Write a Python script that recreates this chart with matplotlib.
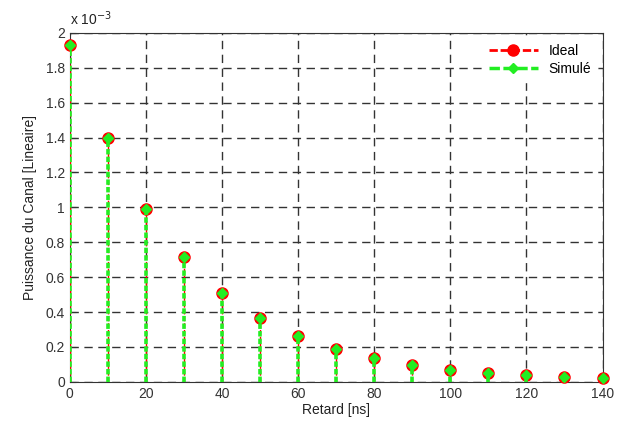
import matplotlib
matplotlib.use("Agg")
import matplotlib.pyplot as plt
from matplotlib.lines import Line2D

plt.rcParams['font.family'] = ['Liberation Sans', 'DejaVu Sans']

delays = [0, 10, 20, 30, 40, 50, 60, 70, 80, 90, 100, 110, 120, 130, 140]
# power in units of 1e-3
ideal = [1.93, 1.40, 0.99, 0.716, 0.51, 0.367, 0.262, 0.19, 0.138, 0.098, 0.07, 0.051, 0.039, 0.028, 0.021]
simule = [1.93, 1.40, 0.99, 0.716, 0.51, 0.367, 0.262, 0.19, 0.138, 0.098, 0.07, 0.051, 0.039, 0.028, 0.021]

fig = plt.figure(figsize=(6.18, 4.21), dpi=100)
ax = fig.add_axes([0.113, 0.093, 0.862, 0.829])

ax.vlines(delays, 0, ideal, colors='#ff0000', linestyles=(0, (3.5, 1.4)), linewidth=1.0, zorder=3)
ax.plot(delays, ideal, 'o', color='#ff0000', markersize=8, zorder=4, clip_on=False)
ax.vlines(delays, 0, simule, colors='#22ee22', linestyles=(0, (1.5, 0.6)), linewidth=2.6, zorder=5)
ax.plot(delays, simule, 'D', color='#22ee22', markersize=5, zorder=6, clip_on=False)

ax.set_xlim(0, 140)
ax.set_ylim(0, 2)
ax.set_xticks(range(0, 141, 20))
ax.set_yticks([0, 0.2, 0.4, 0.6, 0.8, 1, 1.2, 1.4, 1.6, 1.8, 2])
ax.set_yticklabels(['0', '0.2', '0.4', '0.6', '0.8', '1', '1.2', '1.4', '1.6', '1.8', '2'])
ax.grid(True, color='#333333', linestyle=(0, (6, 4)), linewidth=1.0)
ax.set_axisbelow(True)
ax.tick_params(direction='in', labelsize=10, colors='#333333', length=4)
for s in ax.spines.values():
    s.set_color('#333333')
ax.set_xlabel('Retard [ns]', fontsize=10, labelpad=2, color='#222222')
ax.set_ylabel('Puissance du Canal [Lineaire]', fontsize=10, labelpad=6, color='#222222')
ax.text(0.0, 1.015, r'x 10$^{-3}$', transform=ax.transAxes, fontsize=10, ha='left', va='bottom', color='#222222')

h1 = Line2D([], [], color='#ff0000', linestyle=(0, (3, 1)), linewidth=2, marker='o', markersize=8, markevery=[1])
h2 = Line2D([], [], color='#22ee22', linestyle=(0, (3, 1)), linewidth=2.5, marker='D', markersize=5, markevery=[1])
leg = ax.legend([h1, h2], ['Ideal', 'Simulé'], loc='upper right', frameon=True, fontsize=10,
                handlelength=3.5, borderaxespad=0.4, labelspacing=0.3)
leg.get_frame().set_edgecolor('white')
leg.get_frame().set_alpha(1)
leg.get_frame().set_boxstyle('square', pad=0.0)

fig.savefig('out.png', dpi=100)
